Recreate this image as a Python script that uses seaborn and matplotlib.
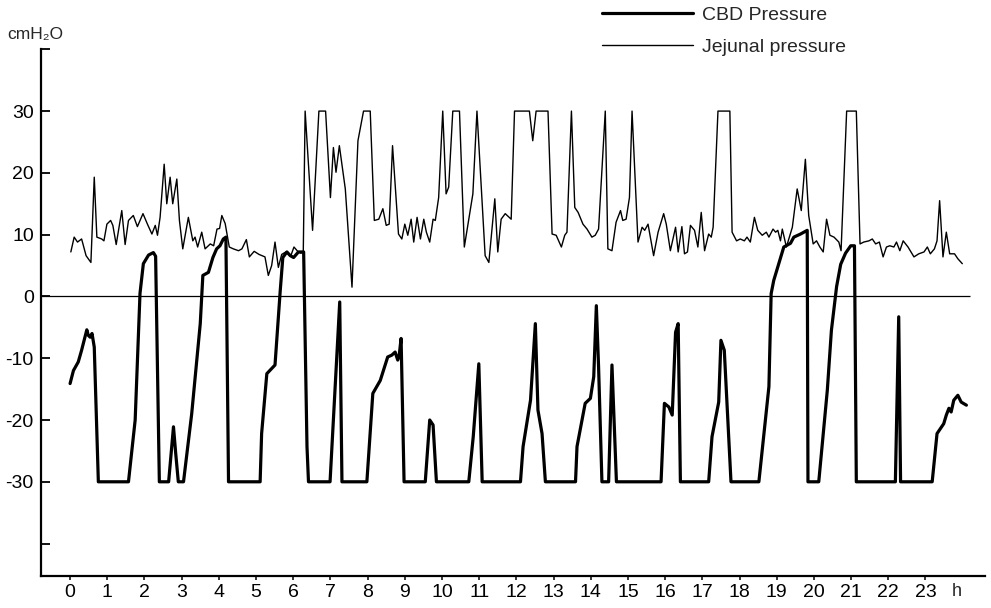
import matplotlib
matplotlib.use("Agg")
import matplotlib.pyplot as plt
import seaborn as sns
import pandas as pd

# ---- data (hours, cmH2O) ----
jej_hours = [0.02, 0.11, 0.20, 0.31, 0.43, 0.56, 0.65, 0.72, 0.85, 0.91, 0.99, 1.09, 1.15, 1.24,
             1.39, 1.48, 1.57, 1.70, 1.81, 1.96, 2.08, 2.20, 2.29, 2.35, 2.42, 2.53, 2.60, 2.69,
             2.76, 2.87, 2.94, 3.03, 3.18, 3.30, 3.36, 3.43, 3.54, 3.63, 3.77, 3.86, 3.95, 4.02,
             4.08, 4.17, 4.28, 4.39, 4.53, 4.62, 4.74, 4.82, 4.95, 5.08, 5.24, 5.33, 5.42, 5.51,
             5.60, 5.69, 5.80, 5.93, 6.02, 6.12, 6.20, 6.27, 6.32, 6.52, 6.69, 6.87, 7.00, 7.08,
             7.15, 7.24, 7.40, 7.58, 7.74, 7.89, 8.07, 8.18, 8.30, 8.41, 8.50, 8.58, 8.67, 8.83,
             8.92, 9.00, 9.08, 9.17, 9.24, 9.33, 9.42, 9.51, 9.58, 9.67, 9.76, 9.82, 9.91, 10.02,
             10.11, 10.18, 10.29, 10.47, 10.60, 10.83, 10.94, 11.16, 11.26, 11.42, 11.50, 11.59,
             11.70, 11.86, 11.95, 12.35, 12.44, 12.53, 12.85, 12.96, 13.07, 13.21, 13.30, 13.36,
             13.48, 13.57, 13.66, 13.79, 13.90, 14.03, 14.12, 14.21, 14.39, 14.46, 14.57, 14.68,
             14.80, 14.86, 14.95, 15.04, 15.11, 15.27, 15.38, 15.45, 15.54, 15.69, 15.81, 15.96,
             16.03, 16.14, 16.28, 16.35, 16.45, 16.52, 16.60, 16.68, 16.79, 16.88, 16.97, 17.06,
             17.17, 17.24, 17.29, 17.42, 17.74, 17.80, 17.92, 18.02, 18.13, 18.20, 18.29, 18.40,
             18.49, 18.61, 18.72, 18.79, 18.90, 18.97, 19.03, 19.10, 19.15, 19.26, 19.42, 19.55,
             19.66, 19.77, 19.86, 19.98, 20.07, 20.16, 20.25, 20.34, 20.43, 20.54, 20.67, 20.73,
             20.88, 21.14, 21.24, 21.34, 21.48, 21.57, 21.66, 21.76, 21.86, 21.95, 22.04, 22.15,
             22.22, 22.31, 22.40, 22.53, 22.69, 22.82, 22.96, 23.05, 23.13, 23.24, 23.31, 23.38,
             23.47, 23.56, 23.65, 23.78, 23.87, 23.99]
jej_values = [7.2, 9.6, 8.8, 9.3, 6.6, 5.5, 19.3, 9.6, 9.3, 9.0, 11.7, 12.3, 11.5, 8.4,
              13.9, 8.4, 12.3, 13.1, 11.3, 13.4, 11.7, 10.1, 11.5, 9.9, 12.8, 21.4, 15.0, 19.3,
              15.0, 19.0, 12.3, 7.7, 12.8, 9.0, 9.6, 8.0, 10.4, 7.7, 8.5, 8.2, 10.9, 11.0,
              13.1, 11.8, 8.0, 7.7, 7.4, 7.7, 9.2, 6.4, 7.3, 6.8, 6.4, 3.4, 5.0, 8.8,
              4.7, 6.8, 7.2, 6.5, 8.0, 7.3, 7.0, 7.2, 30, 10.7, 30, 30, 16.0, 24.1,
              20.1, 24.4, 17.4, 1.5, 25.2, 30, 30, 12.3, 12.5, 14.2, 11.5, 11.7, 24.4, 10.1,
              9.3, 11.7, 9.9, 12.5, 8.8, 12.8, 9.3, 12.5, 10.4, 8.8, 12.5, 12.3, 16.0, 30,
              16.6, 17.7, 30, 30, 8.0, 16.6, 30, 6.6, 5.5, 15.8, 7.2, 12.5,
              13.4, 12.5, 30, 30, 25.2, 30, 30, 10.1, 9.9, 8.0, 9.9, 10.4,
              30, 14.4, 13.6, 11.7, 10.9, 9.6, 9.9, 10.9, 30, 7.7, 7.4, 12.0,
              13.9, 12.3, 12.5, 16.0, 30, 8.8, 11.2, 10.7, 11.7, 6.6, 10.4, 13.4,
              11.7, 7.4, 11.2, 7.2, 11.3, 6.9, 7.2, 11.5, 10.7, 8.0, 13.6, 7.4,
              10.1, 9.6, 11.2, 30, 30, 10.4, 9.0, 9.3, 9.0, 9.6, 8.8, 12.8,
              10.7, 9.9, 10.4, 9.6, 10.9, 10.4, 10.7, 9.0, 10.9, 8.0, 11.2, 17.4,
              13.9, 22.2, 13.1, 8.5, 9.0, 8.0, 7.2, 12.5, 9.9, 9.6, 8.8, 7.4,
              30, 30, 8.5, 8.8, 9.0, 9.3, 8.5, 8.8, 6.4, 8.0, 8.2, 8.0,
              8.8, 7.4, 9.0, 8.0, 6.4, 6.9, 7.2, 8.0, 6.9, 7.7, 9.0, 15.5,
              6.4, 10.4, 6.9, 6.9, 6.1, 5.3]

cbd_hours = [0.00, 0.09, 0.22, 0.31, 0.40, 0.45, 0.49, 0.54, 0.59, 0.65, 0.76, 1.57, 1.75, 1.88,
             1.97, 2.11, 2.24, 2.30, 2.40, 2.65, 2.78, 2.84, 2.91, 3.05, 3.27, 3.50, 3.57, 3.72,
             3.84, 3.94, 4.03, 4.12, 4.19, 4.26, 5.11, 5.15, 5.29, 5.51, 5.65, 5.72, 5.83, 5.92,
             6.01, 6.14, 6.28, 6.37, 6.41, 6.99, 7.25, 7.31, 7.98, 8.14, 8.34, 8.54, 8.65, 8.74,
             8.81, 8.85, 8.90, 8.98, 9.55, 9.67, 9.76, 9.85, 10.72, 10.84, 10.99, 11.08, 12.11,
             12.18, 12.38, 12.51, 12.58, 12.69, 12.78, 13.59, 13.63, 13.85, 13.99, 14.08, 14.15,
             14.21, 14.30, 14.48, 14.57, 14.69, 15.89, 15.98, 16.10, 16.19, 16.28, 16.35, 16.41,
             17.17, 17.26, 17.44, 17.50, 17.59, 17.77, 18.52, 18.79, 18.85, 18.92, 19.05, 19.19,
             19.37, 19.46, 19.64, 19.82, 19.84, 20.13, 20.36, 20.47, 20.61, 20.72, 20.85, 20.99,
             21.09, 21.14, 22.19, 22.28, 22.33, 23.18, 23.31, 23.49, 23.56, 23.63, 23.69, 23.76,
             23.87, 23.96, 24.10]
cbd_values = [-14.1, -12.0, -10.6, -8.7, -6.6, -5.4, -6.3, -6.6, -6.0, -8.2, -30, -30, -20, 0.5,
              5.3, 6.7, 7.1, 6.5, -30, -30, -21.1, -25.4, -30, -30, -19, -4.4, 3.4, 3.9,
              6.3, 7.7, 8.2, 9.3, 9.6, -30, -30, -22.2, -12.5, -11.1, 0.9, 6.3, 7.2, 6.6,
              6.3, 7.2, 7.2, -24.3, -30, -30, -0.9, -30, -30, -15.7, -13.6, -9.8, -9.5, -9.0,
              -10.3, -9.5, -6.8, -30, -30, -20.0, -20.8, -30, -30, -22.7, -10.9, -30, -30,
              -24.3, -16.8, -4.4, -18.4, -22.2, -30, -30, -24.3, -17.3, -16.5, -13.0, -1.5,
              -11.4, -30, -30, -11.1, -30, -30, -17.3, -17.9, -19.2, -5.8, -4.4, -30,
              -30, -22.7, -17.1, -7.1, -8.7, -30, -30, -14.6, 0.45, 2.6, 5.2, 8.0,
              8.6, 9.6, 10.1, 10.7, -30, -30, -15.2, -5.5, 1.6, 5.2, 7.0, 8.2,
              8.2, -30, -30, -3.3, -30, -30, -22.2, -20.6, -19.2, -18.1, -18.7, -16.8,
              -16.0, -17.1, -17.6]

y_ticks = [40, 30, 20, 10, 0, -10, -20, -30, -40]
y_ticklabels = ["", "30", "20", "10", "0", "-10", "-20", "-30", ""]
x_ticks = list(range(24))
x_ticklabels = [str(h) for h in x_ticks]

sns.set_style("ticks")
plt.rcParams["font.family"] = ["Liberation Sans", "DejaVu Sans"]

fig = plt.figure(figsize=(9.91, 6.08), dpi=100)
ax = fig.add_axes([40.7 / 991, 1 - 575.7 / 608, (985 - 40.7) / 991, (575.7 - 49.3) / 608])

jej = pd.DataFrame({"h": jej_hours, "p": jej_values})
cbd = pd.DataFrame({"h": cbd_hours, "p": cbd_values})

sns.lineplot(data=cbd, x="h", y="p", sort=False, estimator=None, color="black",
             linewidth=2.3, ax=ax, label="CBD Pressure")
sns.lineplot(data=jej, x="h", y="p", sort=False, estimator=None, color="black",
             linewidth=1.0, ax=ax, label="Jejunal pressure")

xmin, xmax = -0.79, 24.6
ax.hlines(0, xmin, 24.2, color="black", linewidth=0.9)
ax.set_xlim(xmin, xmax)
ax.set_ylim(-45.2, 40)

for s in ["top", "right"]:
    ax.spines[s].set_visible(False)
for s in ["left", "bottom"]:
    ax.spines[s].set_linewidth(1.6)
    ax.spines[s].set_color("black")

ax.set_yticks(y_ticks)
ax.set_yticklabels(y_ticklabels)
ax.set_xticks(x_ticks)
ax.set_xticklabels(x_ticklabels)
ax.tick_params(axis="y", left=True, direction="in", length=6.5, width=1.3, pad=5,
               labelsize=14, colors="black")
ax.tick_params(axis="x", bottom=True, direction="out", length=3, width=1.1, pad=3,
               labelsize=14, colors="black")
ax.set_xlabel("")
ax.set_ylabel("")

ax.text(23.85, -0.03, "h", transform=ax.get_xaxis_transform(), ha="center", va="center",
        fontsize=13)
fig.text(7 / 991, 1 - 35 / 608, "cmH\u2082O", ha="left", va="center", fontsize=12.5)

leg = ax.legend(loc="upper left", bbox_to_anchor=(602 / 991, 1 - 6 / 608),
                bbox_transform=fig.transFigure, frameon=False, handlelength=4.7,
                handletextpad=0.45, labelspacing=0.75, borderpad=0, borderaxespad=0,
                prop={"size": 14})

fig.savefig("out.png", dpi=100, facecolor="white")
